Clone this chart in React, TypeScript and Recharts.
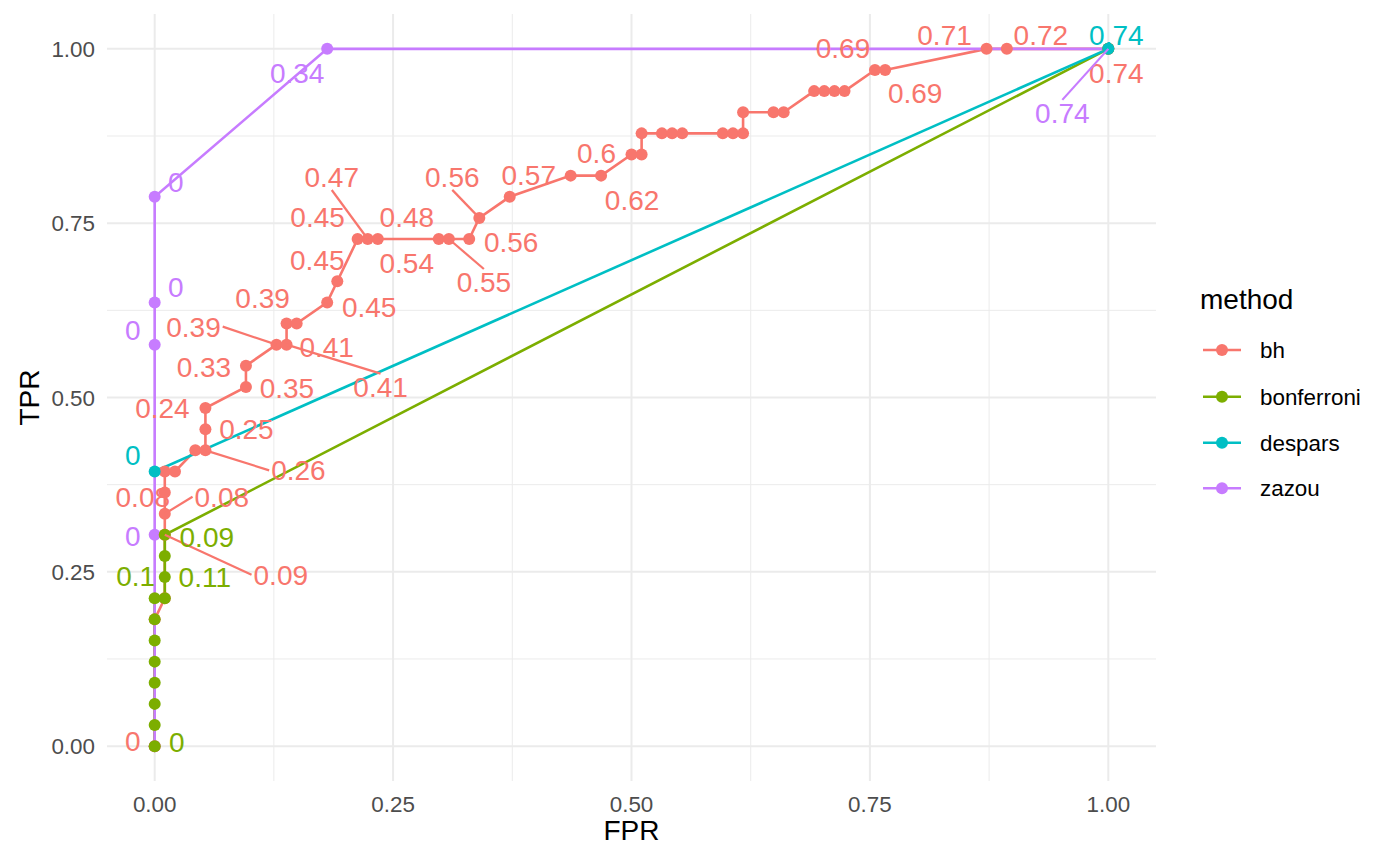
import React from 'react'
import { ComposedChart, Line, Scatter, XAxis, YAxis, CartesianGrid } from 'recharts'

// ROC curves per method (FPR / TPR)
const BH_FPR = [
  0, 0, 0.0106, 0.0106, 0.0106, 0.0106, 0.0106, 0.0213, 0.0426, 0.0532, 0.0532, 0.0532,
  0.0957, 0.0957, 0.1277, 0.1383, 0.1383, 0.1489, 0.1809, 0.1915, 0.2128, 0.2234, 0.234,
  0.2979, 0.3085, 0.3298, 0.3404, 0.3723, 0.4362, 0.4681, 0.5, 0.5106, 0.5106, 0.5319,
  0.5426, 0.5532, 0.5957, 0.6064, 0.617, 0.617, 0.6489, 0.6596, 0.6915, 0.7021, 0.7128,
  0.7234, 0.7553, 0.766, 0.8723, 0.8936, 1,
]
const BH_TPR = [
  0, 0.1818, 0.2121, 0.303, 0.3333, 0.3636, 0.3939, 0.3939, 0.4242, 0.4242, 0.4545, 0.4848,
  0.5152, 0.5455, 0.5758, 0.5758, 0.6061, 0.6061, 0.6364, 0.6667, 0.7273, 0.7273, 0.7273,
  0.7273, 0.7273, 0.7273, 0.7576, 0.7879, 0.8182, 0.8182, 0.8485, 0.8485, 0.8788, 0.8788,
  0.8788, 0.8788, 0.8788, 0.8788, 0.8788, 0.9091, 0.9091, 0.9091, 0.9394, 0.9394, 0.9394,
  0.9394, 0.9697, 0.9697, 1, 1, 1,
]
const BONF_FPR = [0, 0, 0, 0, 0, 0, 0, 0, 0.0106, 0.0106, 0.0106, 0.0106, 1]
const BONF_TPR = [0, 0.0303, 0.0606, 0.0909, 0.1212, 0.1515, 0.1818, 0.2121, 0.2121, 0.2424, 0.2727, 0.303, 1]
const DESPARS_FPR = [0, 1]
const DESPARS_TPR = [0.3939, 1]
const ZAZOU_FPR = [0, 0, 0, 0, 0, 0.1809, 1]
const ZAZOU_TPR = [0, 0.303, 0.5758, 0.6364, 0.7879, 1, 1]

// threshold labels: [point index, text]
const BH_LABELS: [number, string][] = [
  [0, '0'], [3, '0.09'], [4, '0.08'], [5, '0.08'], [9, '0.26'], [10, '0.25'], [11, '0.24'],
  [12, '0.35'], [13, '0.33'], [14, '0.39'], [15, '0.41'], [16, '0.39'], [17, '0.41'],
  [18, '0.45'], [19, '0.45'], [20, '0.45'], [21, '0.47'], [22, '0.48'], [23, '0.54'],
  [24, '0.55'], [25, '0.56'], [26, '0.56'], [27, '0.57'], [29, '0.62'], [30, '0.6'],
  [46, '0.69'], [47, '0.69'], [48, '0.71'], [49, '0.72'], [50, '0.74'],
]
const BONF_LABELS: [number, string][] = [[0, '0'], [7, '0.1'], [8, '0.11'], [11, '0.09']]
const DESPARS_LABELS: [number, string][] = [[0, '0'], [1, '0.74']]
const ZAZOU_LABELS: [number, string][] = [[1, '0'], [2, '0'], [3, '0'], [4, '0'], [5, '0.34'], [6, '0.74']]

// repel layout: pixel nudge of each label from its point, 1 = draw segment
const BH_NUDGE = [
  [-22, -5], [116, 40, 1], [57, -17, 1], [-22, 4], [93, 20, 1], [41, 0], [-43, 0],
  [41, 1], [-42, 1], [-83, -18, 1], [94, 42, 1], [-24, -26], [30, 23],
  [42, 5], [-20, -21], [-40, -22], [-36, -62, 1], [29, -22], [-32, 24],
  [35, 43, 1], [42, 3], [-27, -41, 1], [19, -22], [31, 24], [-35, -2],
  [-32, -22], [30, 23], [-42, -14], [34, -14], [8, 24],
]
const BONF_NUDGE = [[22, -4], [-19, -22], [40, -21], [42, 2]]
const DESPARS_NUDGE = [[-22, -16], [8, -14]]
const ZAZOU_NUDGE = [[-22, 1], [-22, -15], [21, -15], [21, -15], [-30, 24], [-46, 64, 1]]

const X_TICKS = [0, 0.25, 0.5, 0.75, 1]
const Y_TICKS = [0, 0.25, 0.5, 0.75, 1]
const MINOR = [0.125, 0.375, 0.625, 0.875]

const COLORS: Record<string, string> = {
  bh: '#F8766D',
  bonferroni: '#7CAE00',
  despars: '#00BFC4',
  zazou: '#C77CFF',
}
const FONT = '"Liberation Sans", Arial, Helvetica, sans-serif'
const DOT_R = 6
const LINE_W = 2.6

const toPoints = (fpr: number[], tpr: number[]) => fpr.map((x, i) => ({ fpr: x, tpr: tpr[i] }))

const toLabels = (pts: { fpr: number; tpr: number }[], labels: [number, string][], nudge: number[][]) =>
  labels.map(([i, text], k) => ({
    ...pts[i],
    text,
    dx: nudge[k][0],
    dy: nudge[k][1],
    seg: nudge[k][2] === 1,
  }))

const SERIES = [
  { name: 'bh', pts: toPoints(BH_FPR, BH_TPR), labels: BH_LABELS, nudge: BH_NUDGE },
  { name: 'bonferroni', pts: toPoints(BONF_FPR, BONF_TPR), labels: BONF_LABELS, nudge: BONF_NUDGE },
  { name: 'despars', pts: toPoints(DESPARS_FPR, DESPARS_TPR), labels: DESPARS_LABELS, nudge: DESPARS_NUDGE },
  { name: 'zazou', pts: toPoints(ZAZOU_FPR, ZAZOU_TPR), labels: ZAZOU_LABELS, nudge: ZAZOU_NUDGE },
]
// point draw order so overlapping dots stack like the original
const DOT_ORDER = ['zazou', 'bh', 'bonferroni', 'despars']

const LABEL_SIZE = 28
const textWidth = (s: string) =>
  s.split('').reduce((w, c) => w + (c === '.' ? 0.278 : 0.556), 0) * LABEL_SIZE

function labelShape(color: string) {
  return (p: any) => {
    const d = p.payload
    if (d == null || p.cx == null) return <g />
    const lx = p.cx + d.dx
    const ly = p.cy + d.dy
    let segment = null
    if (d.seg) {
      const hw = textWidth(d.text) / 2 + 2
      const hh = 13
      const ax = p.cx - lx
      const ay = p.cy - ly
      let sx = lx
      let sy = ly
      if (Math.abs(ax) / hw > Math.abs(ay) / hh) sx = lx + Math.sign(ax) * hw
      else sy = ly + Math.sign(ay) * hh
      segment = <line x1={sx} y1={sy} x2={p.cx} y2={p.cy} stroke={color} strokeWidth={2.2} />
    }
    return (
      <g>
        {segment}
        <text
          x={lx}
          y={ly + 10}
          textAnchor="middle"
          fill={color}
          fontSize={LABEL_SIZE}
          fontFamily={FONT}
        >
          {d.text}
        </text>
      </g>
    )
  }
}

const dotShape = (color: string) => (p: any) =>
  p.cx == null ? <g /> : <circle cx={p.cx} cy={p.cy} r={DOT_R} fill={color} />

const XTick = (p: any) => (
  <text x={p.x} y={p.y + 31} textAnchor="middle" fill="#4D4D4D" fontSize={22.4} fontFamily={FONT}>
    {Number(p.payload.value).toFixed(2)}
  </text>
)

const YTick = (p: any) => (
  <text x={p.x - 12} y={p.y + 8} textAnchor="end" fill="#4D4D4D" fontSize={22.4} fontFamily={FONT}>
    {Number(p.payload.value).toFixed(2)}
  </text>
)

const FprTitle = (p: any) => {
  const vb = p.viewBox
  return (
    <text x={vb.x + vb.width / 2} y={vb.y + 59} textAnchor="middle" fill="#000" fontSize={28} fontFamily={FONT}>
      FPR
    </text>
  )
}

const TprTitle = (p: any) => {
  const vb = p.viewBox
  const cy = vb.y + vb.height / 2
  return (
    <text
      x={39}
      y={cy}
      transform={`rotate(-90, 39, ${cy})`}
      textAnchor="middle"
      fill="#000"
      fontSize={28}
      fontFamily={FONT}
    >
      TPR
    </text>
  )
}

function MethodLegend() {
  const rows = [350, 396.7, 442.7, 488.3]
  return (
    <svg width={244} height={865} style={{ position: 'absolute', left: 1156, top: 0 }}>
      <text x={44} y={309} fontSize={28} fontFamily={FONT} fill="#000">
        method
      </text>
      {SERIES.map((s, i) => (
        <g key={s.name}>
          <line x1={47} x2={85} y1={rows[i]} y2={rows[i]} stroke={COLORS[s.name]} strokeWidth={LINE_W} />
          <circle cx={66} cy={rows[i]} r={DOT_R} fill={COLORS[s.name]} />
          <text x={104} y={rows[i] + 8} fontSize={22.4} fontFamily={FONT} fill="#000">
            {s.name}
          </text>
        </g>
      ))}
    </svg>
  )
}

export default function App() {
  return (
    <div style={{ position: 'absolute', left: 0, top: 0, width: 1400, height: 865, background: '#fff' }}>
      <ComposedChart width={1400} height={865} margin={{ top: 14, right: 244, bottom: 0, left: 0 }}>
        <CartesianGrid
          stroke="#EBEBEB"
          strokeWidth={1}
          horizontalValues={MINOR}
          verticalValues={MINOR}
        />
        <CartesianGrid
          stroke="#EBEBEB"
          strokeWidth={2}
          horizontalValues={Y_TICKS}
          verticalValues={X_TICKS}
        />
        <XAxis
          type="number"
          dataKey="fpr"
          domain={[-0.05, 1.05]}
          ticks={X_TICKS}
          interval={0}
          allowDataOverflow
          axisLine={false}
          tickLine={false}
          tickSize={0}
          tickMargin={0}
          height={84}
          tick={XTick}
          label={FprTitle}
        />
        <YAxis
          type="number"
          dataKey="tpr"
          domain={[-0.05, 1.05]}
          ticks={Y_TICKS}
          interval={0}
          allowDataOverflow
          axisLine={false}
          tickLine={false}
          tickSize={0}
          tickMargin={0}
          width={107}
          tick={YTick}
          label={TprTitle}
        />
        {SERIES.map((s) => (
          <Line
            key={`line-${s.name}`}
            data={s.pts}
            dataKey="tpr"
            type="linear"
            stroke={COLORS[s.name]}
            strokeWidth={LINE_W}
            dot={false}
            activeDot={false}
            isAnimationActive={false}
          />
        ))}
        {DOT_ORDER.map((name) => {
          const s = SERIES.find((x) => x.name === name)!
          return (
            <Scatter
              key={`dots-${name}`}
              data={s.pts}
              fill={COLORS[name]}
              shape={dotShape(COLORS[name])}
              isAnimationActive={false}
            />
          )
        })}
        {SERIES.map((s) => (
          <Scatter
            key={`labels-${s.name}`}
            data={toLabels(s.pts, s.labels, s.nudge)}
            fill={COLORS[s.name]}
            shape={labelShape(COLORS[s.name])}
            isAnimationActive={false}
          />
        ))}
      </ComposedChart>
      <MethodLegend />
    </div>
  )
}
